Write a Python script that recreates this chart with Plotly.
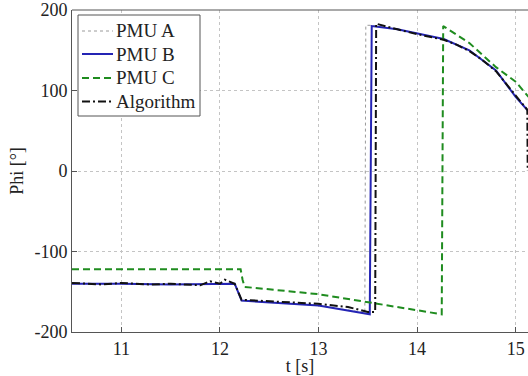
import plotly.graph_objects as go

# ---- data ----
t_a = [10.5, 11.0, 11.5, 12.0, 12.15, 12.22, 12.5, 13.0, 13.47, 13.48, 13.54, 13.8, 14.0, 14.27, 14.53, 14.8, 15.0, 15.13]
v_a = [-140, -140, -141, -140, -140, -161, -163, -167, -176, 181, 181, 176, 171, 164, 150, 125, 92, 74]

t_b = [10.5, 11.0, 11.5, 12.0, 12.15, 12.22, 12.5, 13.0, 13.52, 13.54, 13.8, 14.0, 14.27, 14.53, 14.8, 15.0, 15.13]
v_b = [-140, -140, -141, -140, -140, -161, -163, -167, -178, 180, 176, 171, 164, 150, 125, 92, 74]

t_c = [10.5, 12.21, 12.23, 12.25, 13.0, 14.25, 14.265, 14.53, 14.8, 15.0, 15.13]
v_c = [-122, -122, -135, -144, -153, -178, 180, 159, 129, 111, 92]

t_alg = [10.5, 10.8, 11.0, 11.3, 11.5, 11.8, 11.9, 12.0, 12.05, 12.1, 12.15, 12.22, 12.5, 12.8, 13.0, 13.3, 13.5, 13.575,
         13.585, 13.8, 14.0, 14.27, 14.4, 14.53, 14.65, 14.8, 15.0, 15.118, 15.122]
v_alg = [-139, -141, -139, -141, -140, -142, -137, -140, -135, -138, -140, -160, -162, -164, -165, -169, -175, -175,
         183, 176, 170, 163, 157, 149, 139, 124, 93, 76, 0]

series_names = ["PMU A", "PMU B", "PMU C", "Algorithm"]

x_ticks = [11, 12, 13, 14, 15]
x_ticktext = ["11", "12", "13", "14", "15"]
y_ticks = [-200, -100, 0, 100, 200]
y_ticktext = ["-200", "-100", "0", "100", "200"]

FONT = "'Liberation Serif', 'Times New Roman', 'DejaVu Serif', serif"
W, H = 528, 376
ML, MR, MT, MB = 72, 0, 10, 44
PW, PH = W - ML - MR, H - MT - MB

def px(x):
    return (x - ML) / PW

def py(y):
    return 1 - (y - MT) / PH

styles = [
    dict(color="#9a9a9a", width=1, dash="dot"),
    dict(color="#2424b4", width=2),
    dict(color="#1f8c1f", width=2, dash="7px,4px"),
    dict(color="#111111", width=2, dash="8px,3px,2px,3px"),
]

fig = go.Figure()
for (tx, vy), name, st in zip([(t_a, v_a), (t_b, v_b), (t_c, v_c), (t_alg, v_alg)], series_names, styles):
    fig.add_trace(go.Scatter(x=tx, y=vy, mode="lines", name=name, line=st, showlegend=False))

axis_common = dict(
    showgrid=True, gridcolor="#c4c4c4", gridwidth=1, griddash="dot",
    showline=True, linecolor="#555555", linewidth=1, mirror=False,
    ticks="inside", ticklen=5, tickcolor="#555555",
    tickfont=dict(family=FONT, size=18, color="#222222"),
    zeroline=False,
)

fig.update_layout(
    width=W, height=H,
    margin=dict(l=ML, r=MR, t=MT, b=MB),
    paper_bgcolor="white", plot_bgcolor="white",
    font=dict(family=FONT, color="#222222"),
    xaxis=dict(range=[10.5, 15.125], tickvals=x_ticks, ticktext=x_ticktext,
               title=dict(text="t [s]", font=dict(family=FONT, size=18), standoff=2),
               **axis_common),
    yaxis=dict(range=[-200, 200], tickvals=y_ticks, ticktext=y_ticktext,
               title=dict(text="Phi [°]", font=dict(family=FONT, size=18), standoff=6),
               **axis_common),
    showlegend=False,
)
# top frame line
fig.add_shape(type="line", xref="paper", yref="paper", x0=0, x1=1, y0=1, y1=1,
              line=dict(color="#555555", width=1))

# legend drawn as box + samples + text
fig.add_shape(type="rect", xref="paper", yref="paper", x0=px(78), x1=px(200), y0=py(116), y1=py(15),
              line=dict(color="#555555", width=1), fillcolor="white", layer="above")
row_y = [31, 54, 78, 101.5]
for name, st, ry in zip(series_names, styles, row_y):
    fig.add_shape(type="line", xref="paper", yref="paper", x0=px(82), x1=px(113), y0=py(ry), y1=py(ry),
                  line=st, layer="above")
    fig.add_annotation(xref="paper", yref="paper", x=px(114), y=py(ry), text=name, showarrow=False,
                       xanchor="left", yanchor="middle",
                       font=dict(family=FONT, size=19, color="#222222"))

fig.write_html("out.html")
